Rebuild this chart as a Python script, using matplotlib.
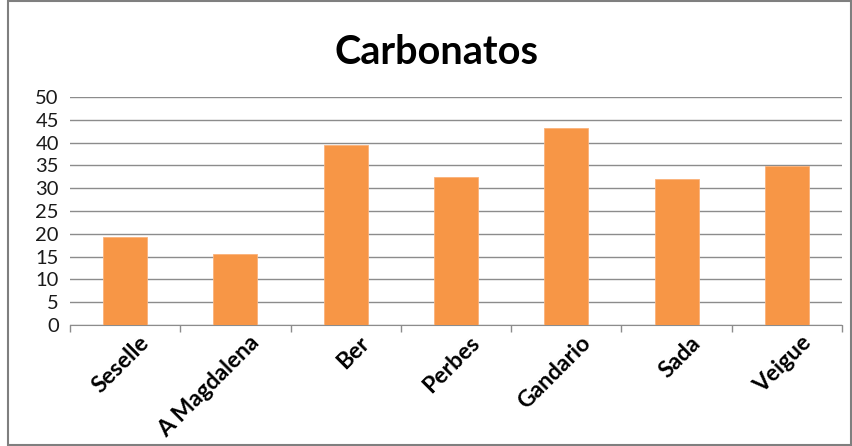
import matplotlib.pyplot as plt
from matplotlib.patches import Rectangle

sites = ['Seselle', 'A Magdalena', 'Ber', 'Perbes', 'Gandario', 'Sada', 'Veigue']
carbonatos = [19.2, 15.5, 39.5, 32.5, 43.1, 32.0, 34.9]
yticks = list(range(0, 55, 5))

plt.rcParams['font.family'] = ['Lato', 'DejaVu Sans']

fig = plt.figure(figsize=(8.53, 4.46), dpi=100)
ax = fig.add_axes([70 / 853, 1 - 325 / 446, 772 / 853, 228 / 446])

x = list(range(len(sites)))
ax.bar(x, carbonatos, width=0.4, color='#F79646', edgecolor='#FAB27A', linewidth=0.6, zorder=3)

ax.set_xlim(-0.5, len(sites) - 0.5)
ax.set_ylim(0, 50)
ax.set_yticks(yticks)
ax.set_yticklabels([str(t) for t in yticks], fontsize=14.5, color='#1a1a1a')
ax.grid(axis='y', color='#8c8c8c', linewidth=1, zorder=0)

# category separator ticks like Excel
ax.set_xticks([i - 0.5 for i in range(len(sites) + 1)])
ax.set_xticklabels([])
ax.tick_params(axis='x', length=5, color='#8c8c8c', width=1)
ax.tick_params(axis='y', length=0, pad=8)
for i, name in enumerate(sites):
    ax.text(i + 0.12, -1.6, name, rotation=45, ha='right', va='top',
            rotation_mode='anchor', fontsize=16.5, fontweight='bold', color='black')

for s in ['top', 'right', 'left']:
    ax.spines[s].set_visible(False)
ax.spines['bottom'].set_color('#8c8c8c')

fig.text(437 / 853, 1 - 52 / 446, 'Carbonatos', ha='center', va='center',
         fontsize=28.5, fontweight='bold')

fig.patches.append(Rectangle((8 / 853, 0.002), 843 / 853, 0.995, transform=fig.transFigure,
                             fill=False, edgecolor='#7f7f7f', linewidth=1.5))

fig.savefig('out.png', dpi=100)
